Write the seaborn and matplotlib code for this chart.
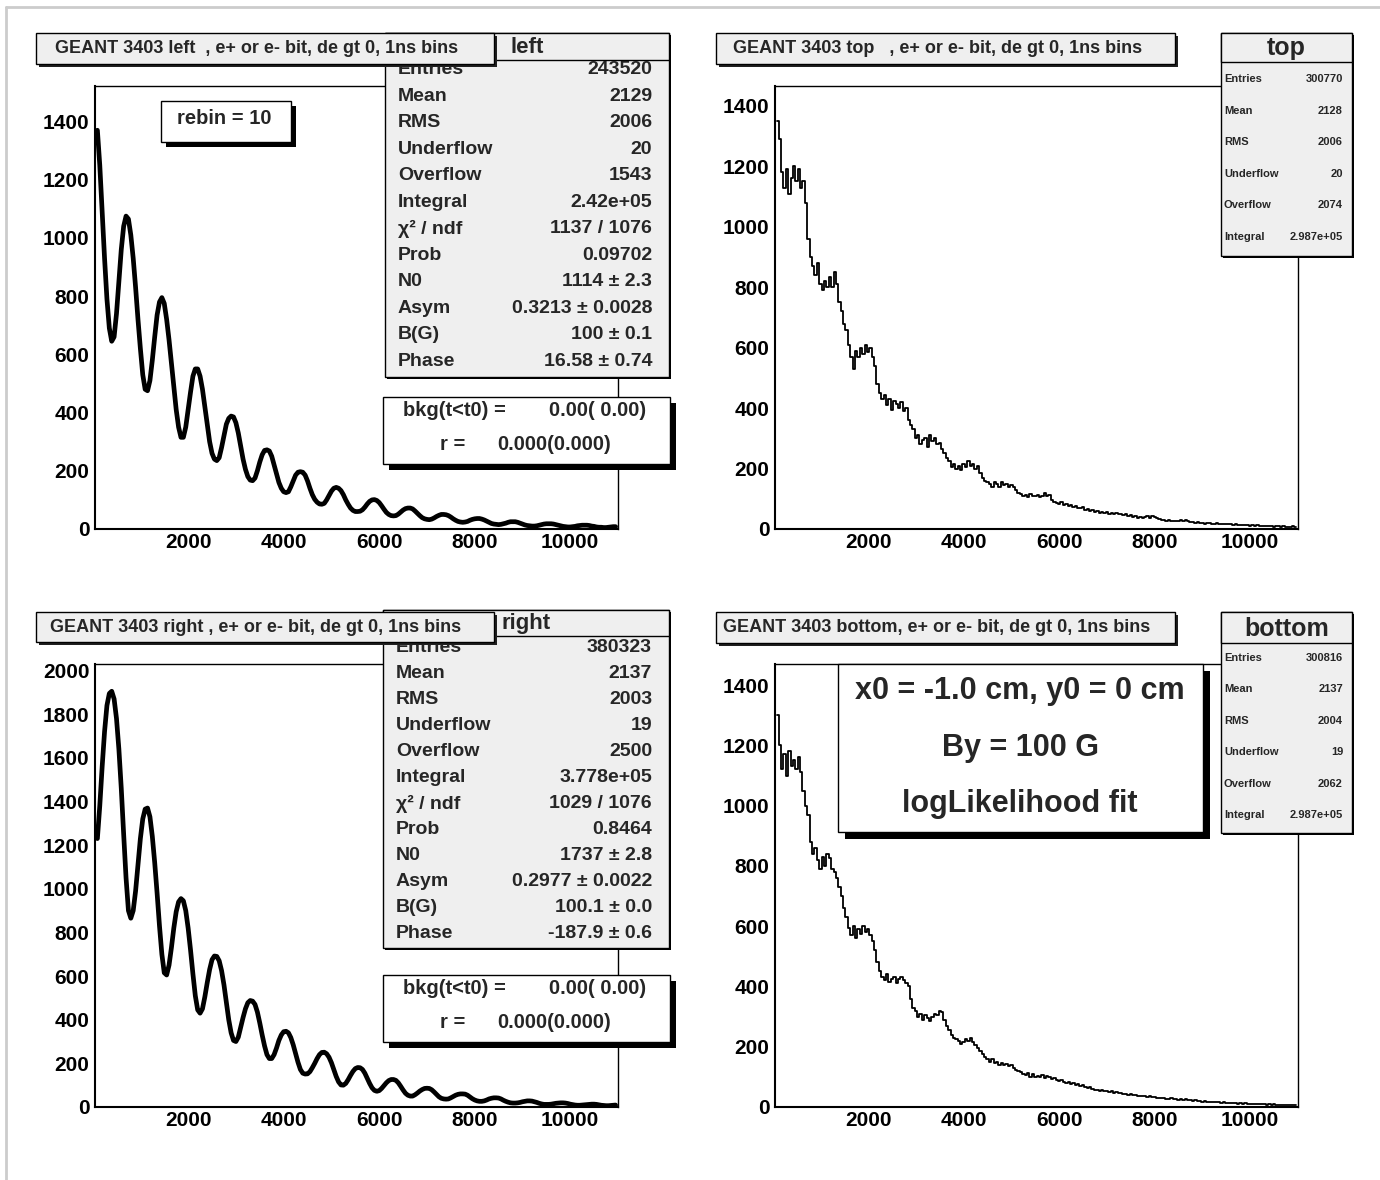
import numpy as np
import pandas as pd
import seaborn as sns
import matplotlib
matplotlib.use("Agg")
import matplotlib.pyplot as plt
from matplotlib.patches import Rectangle
from matplotlib.ticker import MultipleLocator, FixedLocator

# ROOT style canvas: 4 histograms of GEANT 3403 decay times

sns.set_style("white")
plt.rcParams['font.family'] = ['Liberation Sans', 'DejaVu Sans']
plt.rcParams['font.weight'] = 'bold'

# bins, first bin centre at 100 ns, 50 ns apart
first_bin = 100
bin_width = 50

left_counts = [
    1370, 1250, 1090, 930, 790, 690, 645, 660, 740, 850,
    960, 1040, 1075, 1065, 1010, 930, 830, 720, 620, 530,
    480, 475, 510, 580, 660, 735, 780, 795, 775, 720,
    650, 570, 490, 410, 350, 315, 315, 350, 410, 470,
    525, 550, 550, 525, 480, 420, 360, 300, 260, 240,
    235, 245, 280, 320, 360, 380, 388, 385, 365, 330,
    285, 240, 205, 180, 168, 166, 175, 200, 230, 255,
    270, 272, 268, 250, 220, 190, 160, 140, 128, 125,
    128, 145, 165, 185, 195, 197, 195, 185, 165, 140,
    118, 102, 92, 86, 85, 88, 100, 115, 130, 140,
    143, 140, 132, 118, 100, 85, 72, 64, 60,
    60, 61, 66, 75, 86, 95, 100, 101, 98, 91,
    80, 68, 57, 50, 46, 45, 46, 51, 58, 65,
    70, 72, 72, 69, 62, 54, 46, 39, 35, 33,
    32, 34, 38, 43, 47, 50, 50, 49, 46, 41,
    35, 30, 26, 24, 23, 24, 26, 30, 33, 35,
    36, 36, 34, 31, 27, 23, 19, 17, 16, 15,
    16, 18, 20, 23, 25, 25, 25, 23, 20, 17,
    14, 12, 11, 10, 10, 11, 13, 15, 17, 18,
    18, 18, 17, 15, 13, 11, 9, 8, 7, 7,
    8, 9, 11, 12, 13, 13, 13, 12, 10, 9,
    7, 6, 6, 5, 5, 6, 7, 8, 8,
]

right_counts = [
    1230, 1380, 1560, 1720, 1840, 1895, 1905, 1870, 1780, 1640,
    1460, 1250, 1050, 900, 865, 900, 990, 1110, 1230, 1320,
    1365, 1370, 1330, 1240, 1120, 980, 830, 700, 615, 605,
    650, 730, 820, 895, 940, 955, 945, 900, 820, 720,
    610, 510, 445, 430, 450, 505, 570, 630, 675, 692,
    690, 670, 625, 560, 480, 400, 340, 305, 300, 320,
    365, 410, 450, 478, 488, 485, 470, 435, 385, 330,
    280, 240, 222, 222, 240, 270, 305, 330, 345, 347,
    340, 318, 285, 245, 205, 172, 155,
    151, 152, 162, 180, 200, 222, 240, 250, 251, 244,
    228, 203, 172, 140, 115, 101, 100, 108, 125, 145,
    163, 176, 181, 180, 172, 155, 132, 108, 88, 76,
    72, 75, 85, 98, 111, 121, 126, 126, 122, 111,
    95, 78, 63, 54, 50, 50, 56, 64, 73, 80,
    85, 86, 85, 79, 69, 58, 47, 40, 37, 36,
    37, 42, 48, 54, 58, 60, 60, 59, 54, 46,
    38, 32, 28, 26, 26, 28, 32, 37, 40, 42,
    42, 41, 37, 31, 26, 22, 19, 18, 18, 19,
    21, 24, 26, 28, 28, 27, 24, 21, 17, 14,
    12, 12, 12, 13, 15, 17, 18, 19, 19, 18,
    16, 13, 11, 9, 8, 8, 9, 10, 11, 12,
    13, 13, 12, 10, 8, 7, 6, 6, 7, 8, 9,
]

top_counts = [
    1350, 1290, 1180, 1130, 1190, 1110, 1160, 1200, 1150, 1190,
    1130, 1150, 1080, 960, 900, 870, 840, 880, 810, 790,
    820, 800, 835, 800, 850, 810, 750, 720, 680, 660,
    610, 570, 530, 590, 570, 600, 580, 610, 585, 600,
    570, 540, 480, 450, 430, 445, 410, 430, 395, 425,
    415, 400, 420, 390, 400, 360, 345, 330, 300, 310,
    280, 295, 300, 270, 310, 290, 300, 280, 285, 265,
    250, 235, 225, 205, 215, 200, 210, 195, 215, 205,
    225, 210, 215, 200, 210, 185, 170, 160, 155, 150,
    140, 155, 148, 140, 155, 145, 150, 138, 145, 140,
    130, 120, 115, 110, 112, 105, 115, 110, 108, 112,
    105, 110, 120, 108, 112, 95, 88, 85, 82, 88,
    78, 82, 75, 80, 72, 76, 70, 68, 72, 64,
    66, 60, 63, 57, 58, 54, 56, 52, 55, 50,
    53, 49, 52, 48, 50, 46, 48, 44, 45, 41,
    43, 38, 41, 37, 40, 42, 38, 43, 40, 36,
    32, 29, 31, 27, 29, 26, 28, 25, 27, 30,
    28, 31, 27, 24, 23, 21, 22, 19, 20, 18,
    21, 19, 17, 18, 20, 17, 16, 18, 15, 17,
    16, 14, 15, 13, 14, 12, 14, 13, 11, 13,
    11, 12, 10, 11, 9, 10, 9, 11, 8, 10,
    9, 8, 9, 7, 8, 7, 9, 8,
]

bottom_counts = [
    1300, 1200, 1120, 1170, 1100, 1180, 1130, 1150, 1120, 1160,
    1110, 1050, 1000, 970, 880, 840, 860, 820, 790, 830,
    800, 840, 825, 790, 780, 760, 730, 700, 660, 630,
    595, 570, 600, 560, 590, 575, 600, 580, 590, 570,
    550, 520, 480, 450, 430, 420, 440, 415, 425, 430,
    410, 425, 430, 420, 410, 400, 360, 330, 320, 300,
    310, 290, 305, 295, 285, 300, 310, 305, 320, 315,
    290, 270, 255, 240, 230, 225, 220, 210, 215, 225,
    220, 230, 215, 205, 195, 185, 175, 165, 160, 150,
    158, 145, 150, 140, 146, 138, 142, 135, 140, 130,
    122, 118, 115, 110, 105, 112, 100, 108, 98, 104,
    100, 106, 95, 102, 98, 92, 95, 88, 86, 90,
    84, 80, 82, 76, 79, 73, 76, 70, 74, 68,
    64, 66, 60, 58, 56, 54, 57, 52, 54, 50,
    52, 48, 50, 46, 47, 43, 44, 41, 42, 39,
    40, 37, 38, 35, 36, 34, 35, 32, 33, 31,
    30, 29, 31, 28, 27, 29, 26, 27, 24, 25,
    23, 25, 22, 23, 21, 22, 19, 20, 18, 19,
    17, 18, 16, 17, 15, 16, 14, 15, 13, 14,
    13, 12, 13, 11, 12, 11, 12, 10, 11, 10,
    11, 9, 10, 9, 10, 8, 9, 8, 9, 7,
    8, 7, 8, 6, 8, 7, 8, 7,
]

# histogram titles and stat boxes
left_title = "GEANT 3403 left  , e+ or e- bit, de gt 0, 1ns bins"
top_title = "GEANT 3403 top   , e+ or e- bit, de gt 0, 1ns bins"
right_title = "GEANT 3403 right , e+ or e- bit, de gt 0, 1ns bins"
bottom_title = "GEANT 3403 bottom, e+ or e- bit, de gt 0, 1ns bins"

fit_stat_names = ["Entries", "Mean", "RMS", "Underflow", "Overflow", "Integral",
                  "χ² / ndf", "Prob", "N0", "Asym", "B(G)", "Phase"]
left_stat_values = ["243520", "2129", "2006", "20", "1543", "2.42e+05",
                    "1137 / 1076", "0.09702", "1114 ± 2.3", "0.3213 ± 0.0028",
                    "100 ± 0.1", "16.58 ± 0.74"]
right_stat_values = ["380323", "2137", "2003", "19", "2500", "3.778e+05",
                     "1029 / 1076", "0.8464", "1737 ± 2.8", "0.2977 ± 0.0022",
                     "100.1 ± 0.0", "-187.9 ± 0.6"]
plain_stat_names = ["Entries", "Mean", "RMS", "Underflow", "Overflow", "Integral"]
top_stat_values = ["300770", "2128", "2006", "20", "2074", "2.987e+05"]
bottom_stat_values = ["300816", "2137", "2004", "19", "2062", "2.987e+05"]

W, H = 1380, 1180
fig = plt.figure(figsize=(W / 100, H / 100), dpi=100)
fig.patch.set_facecolor('white')


def frac(x0, y0, x1, y1):
    # pixel box (y from top) -> figure fraction
    return [x0 / W, 1 - y1 / H, (x1 - x0) / W, (y1 - y0) / H]


def draw_hist(rect, counts, ymax, thick):
    ax = fig.add_axes(frac(*rect))
    df = pd.DataFrame({'t': first_bin + bin_width * np.arange(len(counts)),
                       'n': counts})
    if thick:
        sns.lineplot(data=df, x='t', y='n', ax=ax, color='black', lw=3.4,
                     estimator=None)
    else:
        sns.lineplot(data=df, x='t', y='n', ax=ax, color='black', lw=1.3,
                     estimator=None, drawstyle='steps-mid')
    ax.set_xlim(50, 11000)
    ax.set_ylim(0, ymax)
    ax.set_xlabel('')
    ax.set_ylabel('')
    ax.xaxis.set_major_locator(FixedLocator([2000, 4000, 6000, 8000, 10000]))
    ax.xaxis.set_minor_locator(MultipleLocator(500))
    ax.yaxis.set_major_locator(MultipleLocator(200))
    ax.yaxis.set_minor_locator(MultipleLocator(50))
    ax.tick_params(which='both', direction='in', top=False, right=False,
                   width=0.9, colors='black')
    ax.tick_params(which='major', length=9, labelsize=15)
    ax.tick_params(which='minor', length=4.5)
    ax.tick_params(axis='y', pad=4)
    ax.tick_params(axis='x', pad=3)
    for lab in ax.get_xticklabels() + ax.get_yticklabels():
        lab.set_fontweight('bold')
    for side in ['left', 'bottom']:
        ax.spines[side].set_linewidth(1.5)
    for side in ['top', 'right']:
        ax.spines[side].set_linewidth(1.0)
    for sp in ax.spines.values():
        sp.set_color('black')
        sp.set_visible(True)
    return ax


draw_hist((95, 86, 618, 529), left_counts, 1522, True)
draw_hist((775, 86, 1298, 529), top_counts, 1466, False)
draw_hist((95, 664, 618, 1107), right_counts, 2030, True)
draw_hist((775, 664, 1298, 1107), bottom_counts, 1470, False)

# overlay in pixel units for the ROOT pave boxes
ov = fig.add_axes([0, 0, 1, 1])
ov.set_xlim(0, W)
ov.set_ylim(H, 0)
ov.axis('off')
ov.set_zorder(10)

GREY = '#efefef'


def pave(x0, y0, x1, y1, face, shade, z, shade_col='black'):
    if shade:
        ov.add_patch(Rectangle((x0 + shade, y0 + shade), x1 - x0, y1 - y0,
                               facecolor=shade_col, edgecolor='none', zorder=z))
    ov.add_patch(Rectangle((x0, y0), x1 - x0, y1 - y0, facecolor=face,
                           edgecolor='black', lw=1.0, zorder=z + 0.1))


def title_box(x0, y0, x1, y1, text, tx):
    pave(x0, y0, x1, y1, GREY, 3, 20, '#202020')
    ov.text(tx, (y0 + y1) / 2, text, fontsize=13, ha='left', va='center',
            zorder=20.5)


def stat_box(x0, y0, x1, y1, sep, header, hsize, names, values, ys, size,
             lx, vx):
    pave(x0, y0, x1, y1, GREY, 2, 10)
    for name, val, y in zip(names, values, ys):
        ov.text(lx, y, name, fontsize=size, ha='left', va='center', zorder=10.3)
        ov.text(vx, y, val, fontsize=size, ha='right', va='center', zorder=10.3)
    # header band sits over the first row, as in ROOT
    ov.add_patch(Rectangle((x0, y0), x1 - x0, sep - y0, facecolor=GREY,
                           edgecolor='black', lw=1.0, zorder=10.5))
    ov.text((x0 + x1) / 2, (y0 + sep) / 2 + 1, header, fontsize=hsize,
            ha='center', va='center', zorder=10.6)


# page border
ov.plot([6, 6], [7, H], color='#cccccc', lw=2, zorder=1)
ov.plot([6, W], [7, 7], color='#cccccc', lw=2, zorder=1)

# --- left
stat_box(385, 33, 669, 377, 60, "left", 16, fit_stat_names, left_stat_values,
         np.linspace(70, 361, 12), 14, 398, 652)
title_box(36, 33, 494, 64, left_title, 55)
pave(383, 397, 670, 464, 'white', 6, 10)
ov.text(403, 411, "bkg(t<t0) =", fontsize=14.5, ha='left', va='center', zorder=11)
ov.text(646, 411, "0.00( 0.00)", fontsize=14.5, ha='right', va='center', zorder=11)
ov.text(440, 444, "r =", fontsize=14.5, ha='left', va='center', zorder=11)
ov.text(611, 444, "0.000(0.000)", fontsize=14.5, ha='right', va='center', zorder=11)
pave(161, 101, 291, 142, 'white', 5, 10)
ov.text(224, 118, "rebin = 10", fontsize=14.5, ha='center', va='center', zorder=11)

# --- top
stat_box(1221, 33, 1352, 256, 62, "top", 18, plain_stat_names, top_stat_values,
         np.linspace(79, 237, 6), 8, 1224, 1343)
title_box(716, 33, 1175, 64, top_title, 733)

# --- right
stat_box(383, 610, 669, 948, 636, "right", 16, fit_stat_names, right_stat_values,
         np.linspace(647, 934, 12), 14, 396, 652)
title_box(36, 612, 494, 642, right_title, 50)
pave(383, 975, 670, 1042, 'white', 6, 10)
ov.text(403, 989, "bkg(t<t0) =", fontsize=14.5, ha='left', va='center', zorder=11)
ov.text(646, 989, "0.00( 0.00)", fontsize=14.5, ha='right', va='center', zorder=11)
ov.text(440, 1022, "r =", fontsize=14.5, ha='left', va='center', zorder=11)
ov.text(611, 1022, "0.000(0.000)", fontsize=14.5, ha='right', va='center', zorder=11)

# --- bottom
stat_box(1221, 612, 1352, 833, 643, "bottom", 18, plain_stat_names,
         bottom_stat_values, np.linspace(658, 815, 6), 8, 1224, 1343)
title_box(716, 612, 1175, 643, bottom_title, 723)
pave(838, 664, 1203, 832, 'white', 7, 10)
ov.text(1020, 691, "x0 = -1.0 cm, y0 = 0 cm", fontsize=22, ha='center',
        va='center', zorder=11)
ov.text(1020, 748, "By = 100 G", fontsize=22, ha='center', va='center', zorder=11)
ov.text(1020, 804, "logLikelihood fit", fontsize=22, ha='center', va='center',
        zorder=11)

fig.savefig("out.png", dpi=100, facecolor='white')
